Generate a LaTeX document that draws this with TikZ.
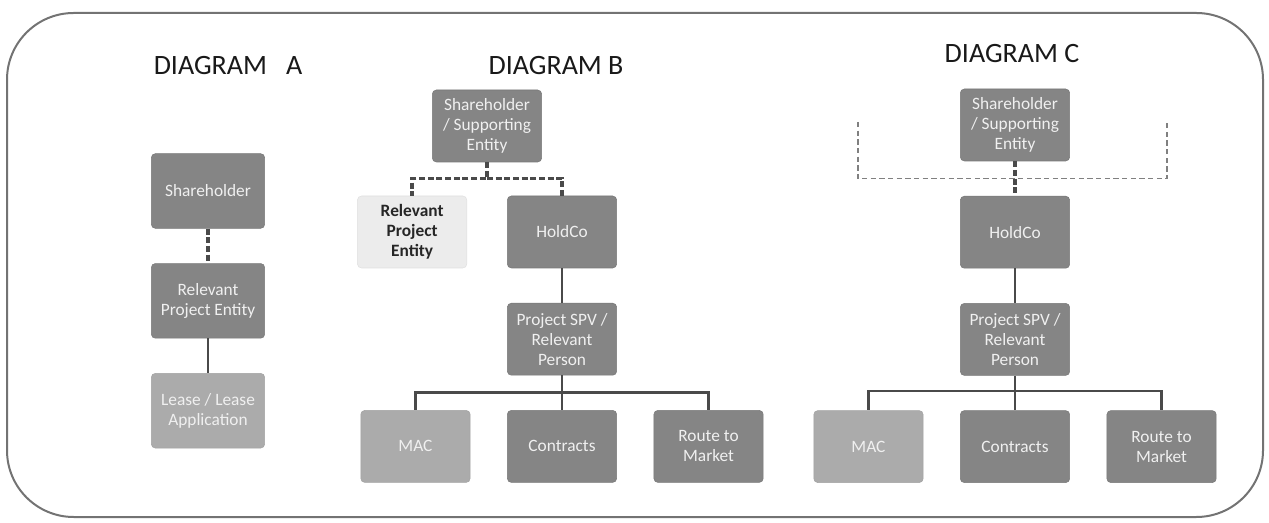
\documentclass[tikz,border=0pt]{standalone}
\usepackage{fontspec}
\setmainfont{Carlito}
\usepackage{xcolor}
\usepackage{tikz}
\usetikzlibrary{positioning, calc}
\definecolor{darkbox}{HTML}{858585}
\definecolor{midbox}{HTML}{ABABAB}
\definecolor{palebox}{HTML}{ECECEC}
\definecolor{linegray}{HTML}{4A4A4A}
\tikzstyle{link} = [line width=1.7pt, draw=linegray]
\tikzstyle{dashlink} = [line width=2.6pt, draw=linegray, dash pattern=on 4.5pt off 2pt]

\begin{document}
\begin{tikzpicture}[x=0.75pt, y=-0.75pt, node distance=26pt and 27.5pt]
    \tikzstyle{box} = [rectangle, rounded corners=3pt, draw=darkbox!90!black, fill=darkbox, minimum width=82pt, minimum height=54pt, align=center, text=white!94!black, font=\fontsize{13}{15}\selectfont]
    \tikzstyle{litebox} = [box, fill=midbox, draw=midbox!95!black]
    \tikzstyle{palebox} = [box, fill=palebox, draw=palebox!95!black, text=black!85, font=\fontsize{13}{15}\selectfont\bfseries]
    \tikzstyle{title} = [font=\fontsize{21}{25}\selectfont, text=black!90]
    \tikzstyle{bracket} = [line width=1.3pt, draw=gray, dash pattern=on 4pt off 2.5pt]

    \useasboundingbox (0,0) rectangle (1269,523);
    \draw[line width=1.5pt, draw=gray!90!black, rounded corners=50pt] (7,13) rectangle (1263,517);

    % diagram A
    \node[title] (titleA) at (228,66) {DIAGRAM\ \ \ A};
    \node[box, minimum width=85pt, minimum height=56pt] (ashare) at (208,191) {Shareholder};
    \node[box, minimum width=85pt, minimum height=56pt, below=of ashare] (arpe) {Relevant\\Project Entity};
    \node[litebox, minimum width=85pt, minimum height=56pt, below=of arpe] (alease) {Lease / Lease\\Application};

    \draw[dashlink] (ashare) -- (arpe);
    \draw[link] (arpe) -- (alease);

    % diagram B
    \node[title] (titleB) at (556,66) {DIAGRAM B};
    \node[box] (bshare) at (487,126) {Shareholder\\/ Supporting\\Entity};
    \node[box] (bhold) at (562,232) {HoldCo};
    \node[palebox, left=30pt of bhold] (brpe) {Relevant\\Project\\Entity};
    \node[box, below=of bhold] (bspv) {Project SPV /\\Relevant\\Person};
    \node[box, below=of bspv] (bcon) {Contracts};
    \node[litebox, left=of bcon] (bmac) {MAC};
    \node[box, right=of bcon] (broute) {Route to\\Market};

    \draw[dashlink] (bshare.south) -- ++(0,16) coordinate (bsplit) -| (brpe.north);
    \draw[dashlink] (bsplit) -| (bhold.north);
    \draw[link] (bhold) -- (bspv);
    \draw[link] (bspv.south) -- ++(0,17) coordinate (bfork) -| (bmac.north);
    \draw[link] (bfork) -- (bcon.north);
    \draw[link] (bfork) -| (broute.north);

    % diagram C
    \node[title] (titleC) at (1012,54) {DIAGRAM C};
    \node[box] (cshare) at (1015,125) {Shareholder\\/ Supporting\\Entity};
    \node[box, below=of cshare] (chold) {HoldCo};
    \node[box, below=of chold] (cspv) {Project SPV /\\Relevant\\Person};
    \node[box, below=of cspv] (ccon) {Contracts};
    \node[litebox, left=of ccon] (cmac) {MAC};
    \node[box, right=of ccon] (croute) {Route to\\Market};
    \coordinate (cleft) at (858,122);
    \coordinate (cright) at (1167,122);

    \draw[bracket] (cleft) |- ($(cshare.south)!0.5!(chold.north)$) -| (cright);
    \draw[dashlink] (cshare) -- (chold);
    \draw[link] (chold) -- (cspv);
    \draw[link] (cspv.south) -- ++(0,15) coordinate (cfork) -| (cmac.north);
    \draw[link] (cfork) -- (ccon.north);
    \draw[link] (cfork) -| (croute.north);
\end{tikzpicture}
\end{document}
